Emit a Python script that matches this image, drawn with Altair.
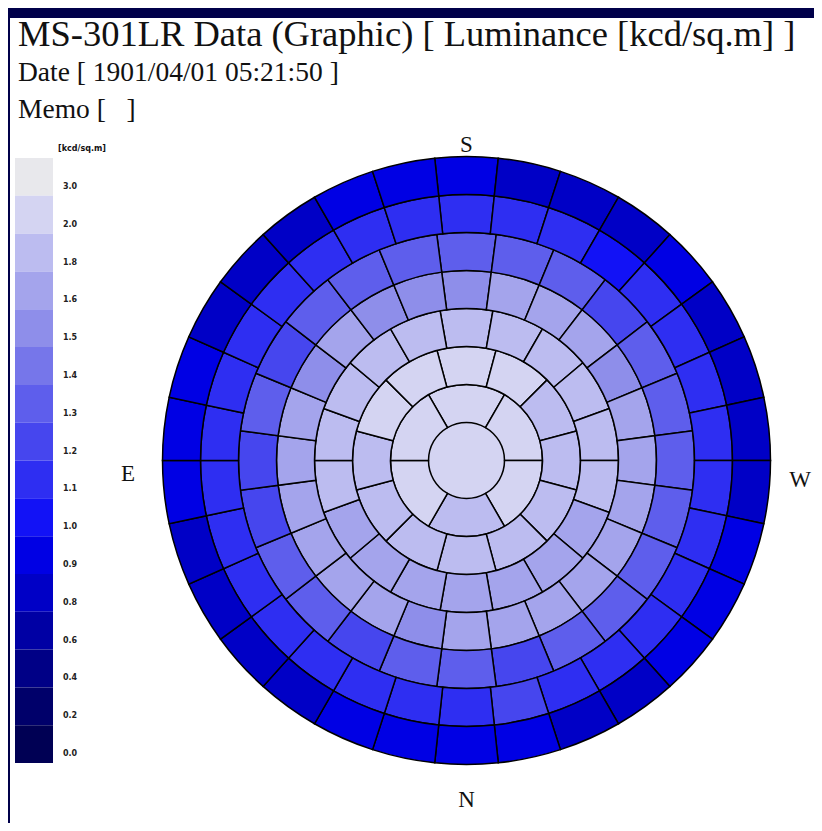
import altair as alt
import pandas as pd

# ---------------- text ----------------
title_text = "MS-301LR Data (Graphic) [ Luminance [kcd/sq.m] ]"
date_text = "Date [ 1901/04/01 05:21:50 ]"
memo_text = "Memo [\u00a0\u00a0\u00a0]"
unit_text = "[kcd/sq.m]"

# ---------------- legend ----------------
legend_labels = ["3.0", "2.0", "1.8", "1.6", "1.5", "1.4", "1.3", "1.2",
                 "1.1", "1.0", "0.9", "0.8", "0.6", "0.4", "0.2", "0.0"]
legend_colors = ["#e8e8ec", "#d4d4f2", "#bcbcf0", "#a4a4ec", "#8e8eea", "#7676ea",
                 "#5e5eec", "#4646ee", "#2e2ef2", "#1212f6", "#0000e4", "#0000c6",
                 "#0000a4", "#000086", "#00006a", "#000054"]
thresholds = [0.2, 0.4, 0.6, 0.8, 0.9, 1.0, 1.1, 1.2, 1.3, 1.4, 1.5, 1.6, 1.8, 2.0, 3.0]

# ---------------- sky patches (kcd/sq.m), clockwise from S (top) ----------------
ring_counts = [1, 6, 12, 18, 24, 24, 30, 30]
ring_values = [
    [2.2],
    [2.15, 2.1, 2.05, 1.9, 2.1, 2.2],
    [2.05, 2.0, 1.9, 1.85, 1.85, 1.85, 1.8, 1.85, 1.85, 1.9, 2.0, 2.05],
    [1.85, 1.8, 1.85, 1.8, 1.85, 1.8, 1.75, 1.7, 1.7, 1.65, 1.7, 1.7,
     1.75, 1.8, 1.85, 1.8, 1.85, 1.8],
    [1.55, 1.6, 1.65, 1.6, 1.55, 1.6, 1.65, 1.65, 1.6, 1.65, 1.6, 1.6,
     1.6, 1.55, 1.6, 1.6, 1.65, 1.6, 1.65, 1.6, 1.55, 1.6, 1.55, 1.5],
    [1.3, 1.35, 1.3, 1.25, 1.3, 1.35, 1.35, 1.3, 1.35, 1.3, 1.3, 1.25,
     1.3, 1.3, 1.25, 1.3, 1.3, 1.25, 1.25, 1.3, 1.25, 1.3, 1.35, 1.3],
    [1.15, 1.1, 1.1, 1.05, 1.1, 1.15, 1.15, 1.1, 1.15, 1.15, 1.15, 1.1,
     1.15, 1.15, 1.2, 1.15, 1.15, 1.1, 1.15, 1.15, 1.1, 1.15, 1.15, 1.15,
     1.1, 1.15, 1.1, 1.15, 1.15, 1.1],
    [0.95, 0.85, 0.85, 0.85, 0.9, 0.85, 0.85, 0.85, 0.85, 0.9, 0.95, 0.95,
     0.85, 0.85, 0.9, 0.92, 0.9, 0.9, 0.85, 0.85, 0.85, 0.85, 0.9, 0.95,
     0.95, 0.85, 0.85, 0.85, 0.9, 0.9],
]

rows = []
for k, (n, vals) in enumerate(zip(ring_counts, ring_values)):
    step = 360.0 / n
    for i, v in enumerate(vals):
        c = i * step
        rows.append({"ring": k, "idx": i, "value": v,
                     "t0": c - step / 2 if n > 1 else 0.0,
                     "t1": c + step / 2 if n > 1 else 360.0,
                     "r0": k, "r1": k + 1})
patches = pd.DataFrame(rows)
center_df = patches[patches["ring"] == 0]
rings_df = patches[patches["ring"] > 0]

legend_df = pd.DataFrame({"label": legend_labels, "color": legend_colors})

W, H = 806, 815
CX, CY = 458.5, 452.5

one = pd.DataFrame({"a": [0]})

panel = alt.Chart(one).mark_rect(color="white").encode(
    x=alt.value(2), x2=alt.value(W), y=alt.value(10), y2=alt.value(H))

theta_scale = alt.Scale(domain=[0, 360], range=[0, 6.283185307])
radius_scale = alt.Scale(type="linear", domain=[0, 8], range=[0, 304], zero=True)
color_scale = alt.Scale(type="threshold", domain=thresholds, range=legend_colors[::-1])


def sky_layer(df, stroke_width):
    return alt.Chart(df).mark_arc(stroke="black", strokeWidth=stroke_width).encode(
        theta=alt.Theta("t0:Q", scale=theta_scale),
        theta2="t1:Q",
        radius=alt.Radius("r0:Q", scale=radius_scale),
        radius2="r1:Q",
        color=alt.Color("value:Q", scale=color_scale, legend=None),
        x=alt.value(CX), y=alt.value(CY),
    )


center = sky_layer(center_df, 0)
sky = sky_layer(rings_df, 1.5)

leg_scale = alt.Scale(range=[150, 755], paddingInner=0, paddingOuter=0)
leg_rects = alt.Chart(legend_df).mark_rect().encode(
    y=alt.Y("label:N", sort=legend_labels, axis=None, scale=leg_scale),
    x=alt.value(7), x2=alt.value(45),
    color=alt.Color("color:N", scale=None),
)
leg_text = alt.Chart(legend_df).mark_text(
    align="left", baseline="middle", dy=10, font="DejaVu Sans", fontSize=8,
    fontWeight="bold", color="#222222").encode(
    y=alt.Y("label:N", sort=legend_labels, axis=None, scale=leg_scale),
    x=alt.value(55),
    text="label:N",
)


def txt(s, x, y, size, align="left", baseline="alphabetic", font="Liberation Serif", weight="normal"):
    return alt.Chart(one).mark_text(
        text=s, align=align, baseline=baseline, font=font, fontSize=size,
        fontWeight=weight, color="#111111").encode(x=alt.value(x), y=alt.value(y))


texts = [
    txt(title_text, 10, 38, 36.5),
    txt(date_text, 10, 73, 27.5),
    txt(memo_text, 10, 110, 27.5),
    txt(unit_text, 74, 141, 8, align="center", baseline="middle", font="DejaVu Sans", weight="bold"),
    txt("S", 458.5, 137, 23, align="center", baseline="middle"),
    txt("E", 120, 466, 23, align="center", baseline="middle"),
    txt("W", 792, 472, 23, align="center", baseline="middle"),
    txt("N", 458.5, 792, 23, align="center", baseline="middle"),
]

chart = alt.layer(panel, center, sky, leg_rects, leg_text, *texts).resolve_scale(
    y="independent", color="independent"
).properties(
    width=W, height=H, padding=0, autosize=alt.AutoSizeParams(type="none"),
    background="#00004a",
).configure_view(stroke=None)

chart.save("out.html", embed_options={"renderer": "svg", "actions": False})
